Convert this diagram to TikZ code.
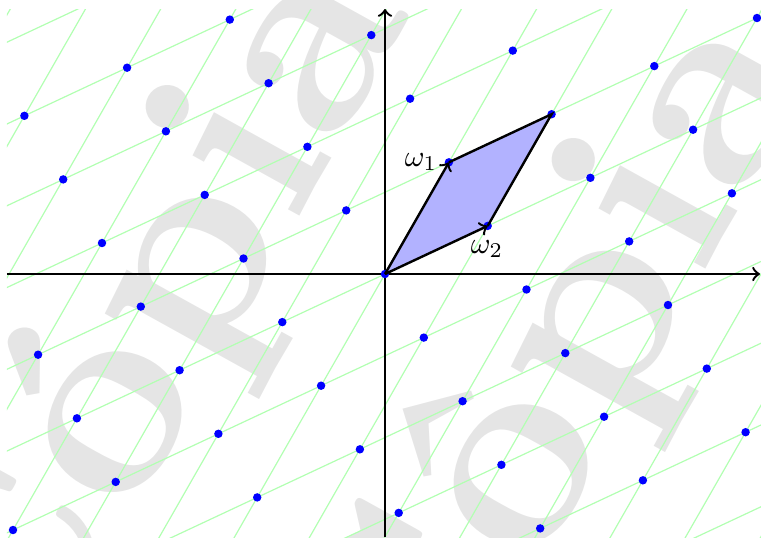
\documentclass[tikz,border=0pt]{standalone}
\tikzset{
  latline/.style={green!30, line width=0.4pt},
  latdot/.style={fill=blue, draw=none},
  axisline/.style={->, line width=0.8pt, black},
  cell/.style={fill=blue!30},
  vec/.style={->, line width=0.8pt},
  celledge/.style={line width=0.8pt},
  wmark/.style={rotate=61, scale=9.2, anchor=base west, inner sep=0pt, text=black!10, font=\fontsize{10}{12}\selectfont\bfseries},
}
\begin{document}
\begin{tikzpicture}[x=0.011655cm, y=-0.011655cm]
\useasboundingbox (0,0) rectangle (761,537);
% watermark
\begin{scope}
\clip (0,0) rectangle (761,537);
\node[wmark] (wm1) at (16,728) {Cópia};
\node[wmark] (wm2) at (422,781) {Côpia};
\end{scope}
% lattice lines
\begin{scope}
\clip (7,9) rectangle (761,537);
\foreach \n in {-8,...,8} {
  \draw[latline] ({385+\n*102.7-12*63.9},{274-\n*48.1+12*111.7}) -- ++({24*63.9},{-24*111.7});
}
\foreach \m in {-7,...,7} {
  \draw[latline] ({385+\m*63.9-12*102.7},{274-\m*111.7+12*48.1}) -- ++({24*102.7},{-24*48.1});
}
\end{scope}
\coordinate (O) at (385,274);
\coordinate (W1) at (448.9,162.3);
\coordinate (W2) at (487.7,225.9);
\coordinate (S) at (551.6,114.2);
\coordinate (XL) at (7,274);
\coordinate (XR) at (760,274);
\coordinate (YB) at (385,537);
\coordinate (YT) at (385,9);
% cell
\fill[cell] (O) -- (W1) -- (S) -- (W2) -- cycle;
% axes
\draw[axisline] (XL) -- (XR);
\draw[axisline] (YB) -- (YT);
% dots
\begin{scope}
\clip (0,0) rectangle (761,537);
\foreach \m in {-7,...,7} {
  \foreach \n in {-9,...,9} {
    \pgfmathsetmacro\px{385+\m*63.9+\n*102.7}
    \pgfmathsetmacro\py{274-\m*111.7-\n*48.1}
    \pgfmathtruncatemacro\ok{and(and(\px>=7,\px<=761),and(\py>=9,\py<=537))}
    \ifnum\ok=1
      \fill[latdot] (\px,\py) circle (1.4pt);
    \fi
  }
}
\end{scope}
% edges and vectors
\draw[celledge] (W1) -- (S) -- (W2);
\draw[vec] (O) -- (W1);
\draw[vec] (O) -- (W2);
\node (L1) at (421,162) {$\omega_1$};
\node (L2) at (487,249) {$\omega_2$};
\end{tikzpicture}
\end{document}
